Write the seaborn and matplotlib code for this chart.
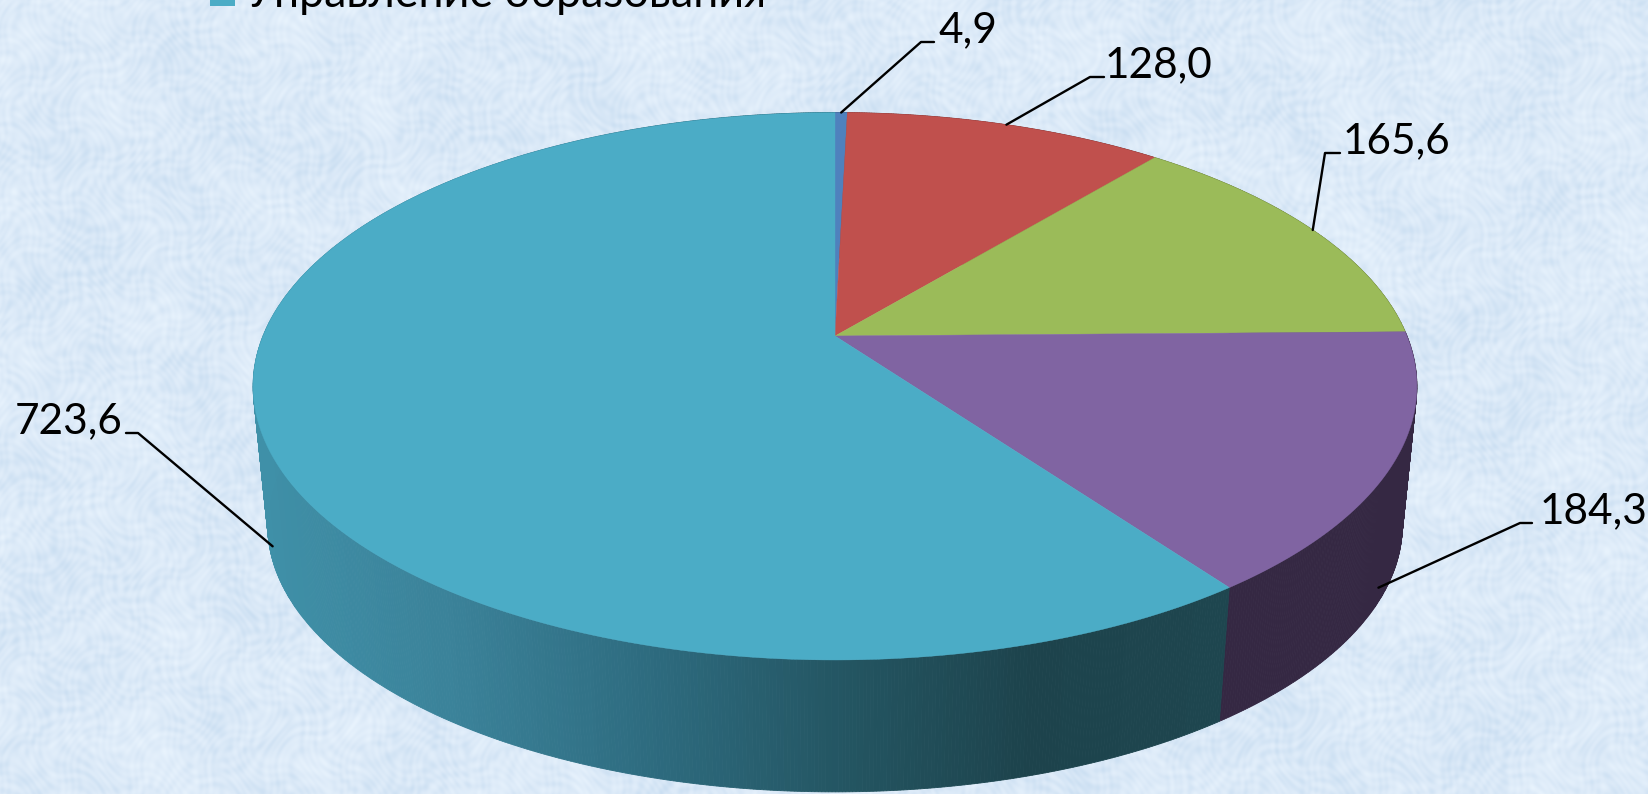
import numpy as np
import matplotlib
matplotlib.use('Agg')
import matplotlib.pyplot as plt
import seaborn as sns

sns.set_theme(style='white')
plt.rcParams['font.family'] = ['Lato', 'Open Sans', 'DejaVu Sans']

values = [4.9, 128.0, 165.6, 184.3, 723.6]
value_labels = ['4,9', '128,0', '165,6', '184,3', '723,6']
legend_label = 'Управление образования'

top_colors = ['#4F81BD', '#C0504D', '#9BBB59', '#8064A2', '#4BACC6']
wall_colors = ['#2F4D71', '#733030', '#5D7035', '#352843', None]
big_wall = sns.blend_palette(['#3F90A8', '#3B8299', '#2E6C80', '#245663', '#1D434C', '#1E464F'], 160)

# label text left, elbow x, elbow y, stub end x
label_pos = [(938, 921, 42, 934),
             (1105, 1090, 77, 1104),
             (1343, 1325, 153, 1340),
             (1540, 1520, 523, 1532),
             (15, 138, 433, 126)]

# perspective of the tilted pie, in pixels
cx, cy = 835, 336
A, B, k = 572, 264.5, 0.1836
shrink, depth = 0.975, 140


def project(theta, lower=False):
    u, v = np.sin(theta), np.cos(theta)
    w = 1 + k * v
    x, y = A * u / w, -B * v / w
    if lower:
        return cx + shrink * x, cy + depth + shrink * y
    return cx + x, cy + y


fig = plt.figure(figsize=(16.48, 7.94), dpi=100)
ax = fig.add_axes([0, 0, 1, 1])
ax.set_xlim(0, 1648)
ax.set_ylim(794, 0)
ax.axis('off')

# mottled paper background
yy, xx = np.mgrid[0:794, 0:1648]
tex = (0.6 * np.sin(xx / 71 + 2.5 * np.sin(yy / 53)) * np.sin(yy / 47 + 2.5 * np.sin(xx / 61))
       + 0.8 * np.sin(xx / 5.3 + 5 * np.sin(yy / 17 + xx / 41)) * np.sin(yy / 6.1 + 5 * np.sin(xx / 19 - yy / 37))
       + 0.6 * np.sin(xx / 2.3 + 6 * np.sin(yy / 13)) * np.sin(yy / 3.1 + 6 * np.sin(xx / 11)))
ax.imshow(tex, extent=(0, 1648, 794, 0), aspect='auto', zorder=0, interpolation='bilinear',
          cmap=sns.blend_palette(['#CBDFF2', '#DCEAF8', '#E8F3FD'], as_cmap=True))

edges = np.cumsum([0] + values) / sum(values) * 2 * np.pi

# side wall first, the top covers its back part
for i in range(len(values)):
    t = np.linspace(edges[i], edges[i + 1], max(int((edges[i + 1] - edges[i]) * 200), 2))
    for a, b in zip(t[:-1], t[1:]):
        x0, y0 = project(np.array([a, b]))
        x1, y1 = project(np.array([b, a]), lower=True)
        if wall_colors[i] is None:
            pos = (np.mean(x0) - 250) / (1230 - 250)
            c = big_wall[int(np.clip(pos, 0, 0.999) * len(big_wall))]
        else:
            c = wall_colors[i]
        ax.fill(np.r_[x0, x1], np.r_[y0, y1], color=c, lw=0.6, zorder=2)

# top surface
for i in range(len(values)):
    t = np.linspace(edges[i], edges[i + 1], 200)
    x, y = project(t)
    ax.fill(np.r_[cx, x], np.r_[cy, y], color=top_colors[i], lw=0.3, zorder=3)

# leaders and labels
for i, val in enumerate(values):
    mid = (edges[i] + edges[i + 1]) / 2
    if np.cos(mid) < 0:
        ax_x, ax_y = project(mid, lower=True)
        ax_y -= 14
    else:
        ax_x, ax_y = project(mid)
    tx, ex, ey, sx = label_pos[i]
    ax.plot([ax_x, ex, sx], [ax_y, ey, ey], color='black', lw=1.7, zorder=4)
    ax.text(tx, ey, value_labels[i], fontsize=30.5, color='black', va='baseline', ha='left', zorder=5)

# legend entry, cut by the top edge
ax.fill_between([210, 235], -10, 6, color=top_colors[4], lw=0, zorder=5)
ax.text(246, 7, legend_label, fontsize=32.2, color='black', va='baseline', ha='left', zorder=5)

fig.savefig('out.png', dpi=100)
